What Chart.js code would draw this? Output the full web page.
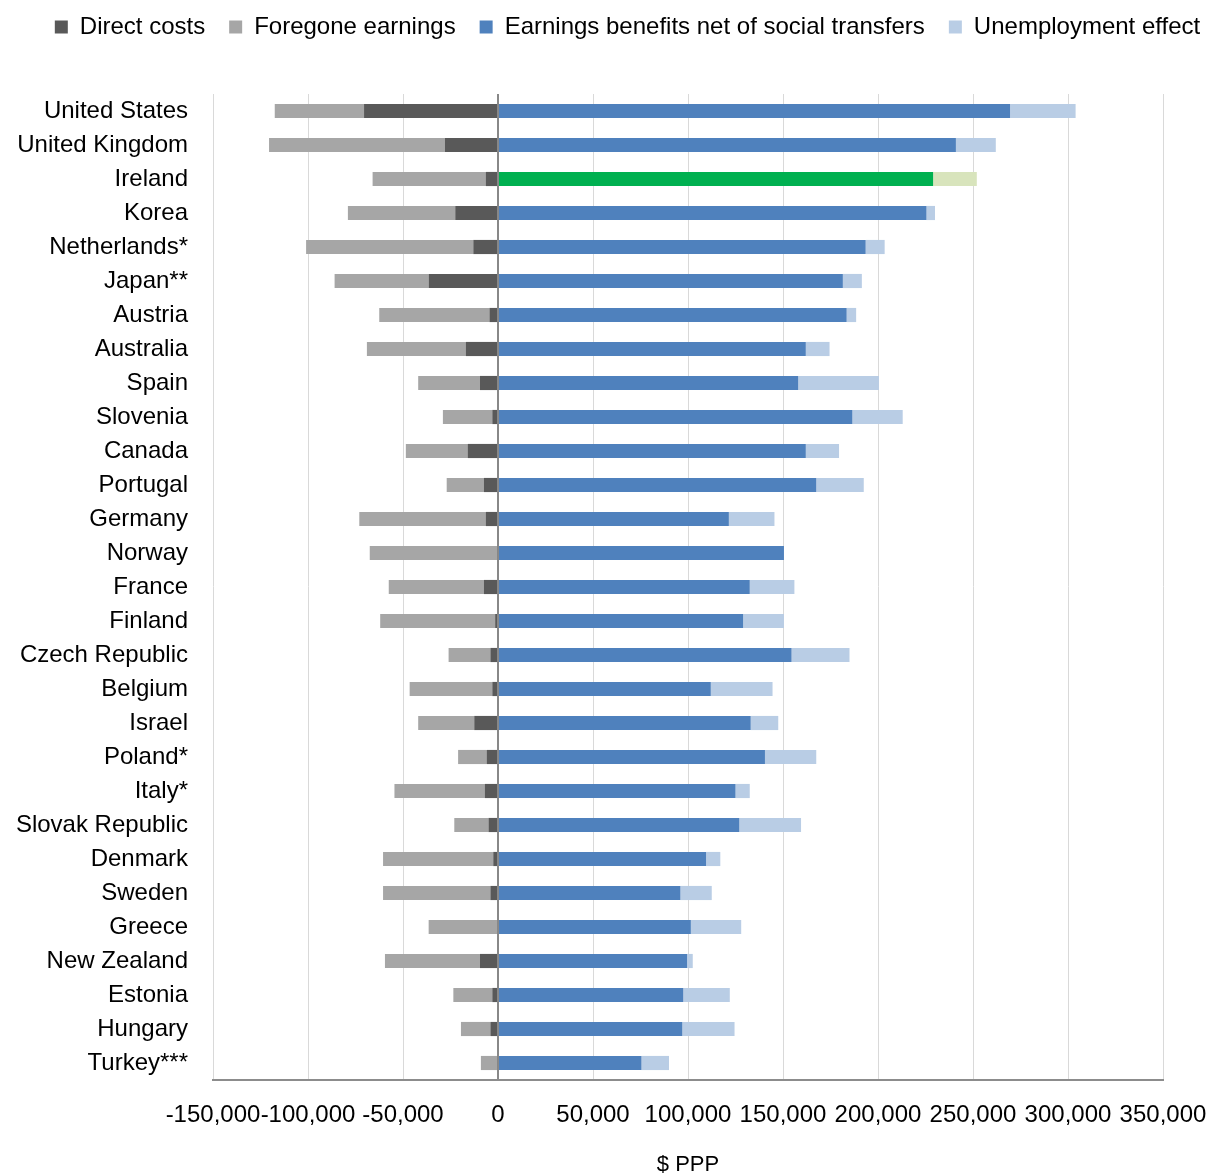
<!DOCTYPE html>
<html>
<head>
<meta charset="utf-8">
<script src="https://cdn.jsdelivr.net/npm/chart.js@4.4.1/dist/chart.umd.min.js"></script>
<style>
  html, body { margin: 0; padding: 0; background: #fff; }
  #wrap { width: 1209px; height: 1173px; }
</style>
</head>
<body>
<div id="wrap"><canvas id="myChart"></canvas></div>
<script>
const countries = ['United States', 'United Kingdom', 'Ireland', 'Korea', 'Netherlands*', 'Japan**', 'Austria', 'Australia', 'Spain', 'Slovenia', 'Canada', 'Portugal', 'Germany', 'Norway', 'France', 'Finland', 'Czech Republic', 'Belgium', 'Israel', 'Poland*', 'Italy*', 'Slovak Republic', 'Denmark', 'Sweden', 'Greece', 'New Zealand', 'Estonia', 'Hungary', 'Turkey***'];

const directCosts = [-70500, -28000, -6500, -22500, -13000, -36500, -4500, -17000, -9500, -3000, -16000, -7500, -6500, -500, -7500, -1500, -4000, -3000, -12500, -6000, -7000, -5000, -2500, -4000, 0, -9500, -3000, -4000, -500];
const foregoneEarnings = [-47000, -92500, -59500, -56500, -88000, -49500, -58000, -52000, -32500, -26000, -32500, -19500, -66500, -67000, -50000, -60500, -22000, -43500, -29500, -15000, -47500, -18000, -58000, -56500, -36500, -50000, -20500, -15500, -8500];
const earningsBenefits = [269500, 241000, 229000, 225500, 193500, 181500, 183500, 162000, 158000, 186500, 162000, 167500, 121500, 150500, 132500, 129000, 154500, 112000, 133000, 140500, 125000, 127000, 109500, 96000, 101500, 99500, 97500, 97000, 75500];
const unemploymentEffect = [34500, 21000, 23000, 4500, 10000, 10000, 5000, 12500, 42500, 26500, 17500, 25000, 24000, 0, 23500, 21500, 30500, 32500, 14500, 27000, 7500, 32500, 7500, 16500, 26500, 3000, 24500, 27500, 14500];

const xTicks = [-150000, -100000, -50000, 0, 50000, 100000, 150000, 200000, 250000, 300000, 350000];
const highlight = 'Ireland';

const FONT = '"Liberation Sans", Arial, sans-serif';

// warna per batang, Ireland disorot hijau
function warna(normal, sorot) {
    return countries.map(c => c === highlight ? sorot : normal);
}

// jarak di bawah legenda, dan geser legenda sedikit ke kanan
const legendGap = {
    id: 'legendGap',
    beforeInit(chart) {
        const legend = chart.legend;
        const fit = legend.fit;
        legend.fit = function () {
            fit.bind(legend)();
            this.height += 45;
        };
        const draw = legend.draw;
        legend.draw = function () {
            const c = this.ctx;
            c.save();
            c.translate(23, 0);
            draw.bind(legend)();
            c.restore();
        };
    }
};

const ctx = document.getElementById('myChart').getContext('2d');

new Chart(ctx, {
    type: 'bar',
    data: {
        labels: countries,
        datasets: [{
            label: 'Direct costs',
            data: directCosts,
            backgroundColor: '#595959'
        }, {
            label: 'Foregone earnings',
            data: foregoneEarnings,
            backgroundColor: '#a6a6a6'
        }, {
            label: 'Earnings benefits net of social transfers',
            data: earningsBenefits,
            backgroundColor: warna('#4f81bd', '#00b050')
        }, {
            label: 'Unemployment effect',
            data: unemploymentEffect,
            backgroundColor: warna('#b9cde5', '#d8e4bc')
        }]
    },
    options: {
        indexAxis: 'y',
        responsive: true,
        maintainAspectRatio: false,
        animation: false,
        layout: {
            padding: { top: -9, right: 0, bottom: 0, left: 0 }
        },
        datasets: {
            bar: {
                categoryPercentage: 0.8,
                barPercentage: 0.52
            }
        },
        scales: {
            x: {
                stacked: true,
                min: -150000,
                max: 350000,
                afterBuildTicks(scale) {
                    scale.ticks = xTicks.map(v => ({ value: v }));
                },
                afterFit(scale) {
                    scale.height = 93;
                    scale.paddingLeft = 0;
                    scale.paddingRight = 46;
                },
                ticks: {
                    color: '#000',
                    padding: 21,
                    maxRotation: 0,
                    autoSkip: false,
                    font: { family: FONT, size: 24 },
                    callback: v => v.toLocaleString('en-US')
                },
                grid: {
                    drawTicks: false,
                    color: ctx => ctx.tick && ctx.tick.value === 0 ? '#888888' : '#d9d9d9',
                    lineWidth: ctx => ctx.tick && ctx.tick.value === 0 ? 2 : 1
                },
                border: { display: true, color: '#8c8c8c', width: 2 },
                title: {
                    display: true,
                    text: '$ PPP',
                    color: '#000',
                    font: { family: FONT, size: 22 },
                    padding: { top: 18, bottom: -5 }
                }
            },
            y: {
                stacked: true,
                afterFit(scale) {
                    scale.width = 213;
                },
                ticks: {
                    color: '#000',
                    padding: 25,
                    autoSkip: false,
                    font: { family: FONT, size: 24 }
                },
                grid: { display: false, drawTicks: false },
                border: { display: false }
            }
        },
        plugins: {
            legend: {
                position: 'top',
                align: 'center',
                labels: {
                    color: '#000',
                    boxWidth: 13,
                    boxHeight: 13,
                    padding: 24,
                    font: { family: FONT, size: 24 }
                }
            },
            tooltip: { enabled: false }
        }
    },
    plugins: [legendGap]
});
</script>
</body>
</html>
